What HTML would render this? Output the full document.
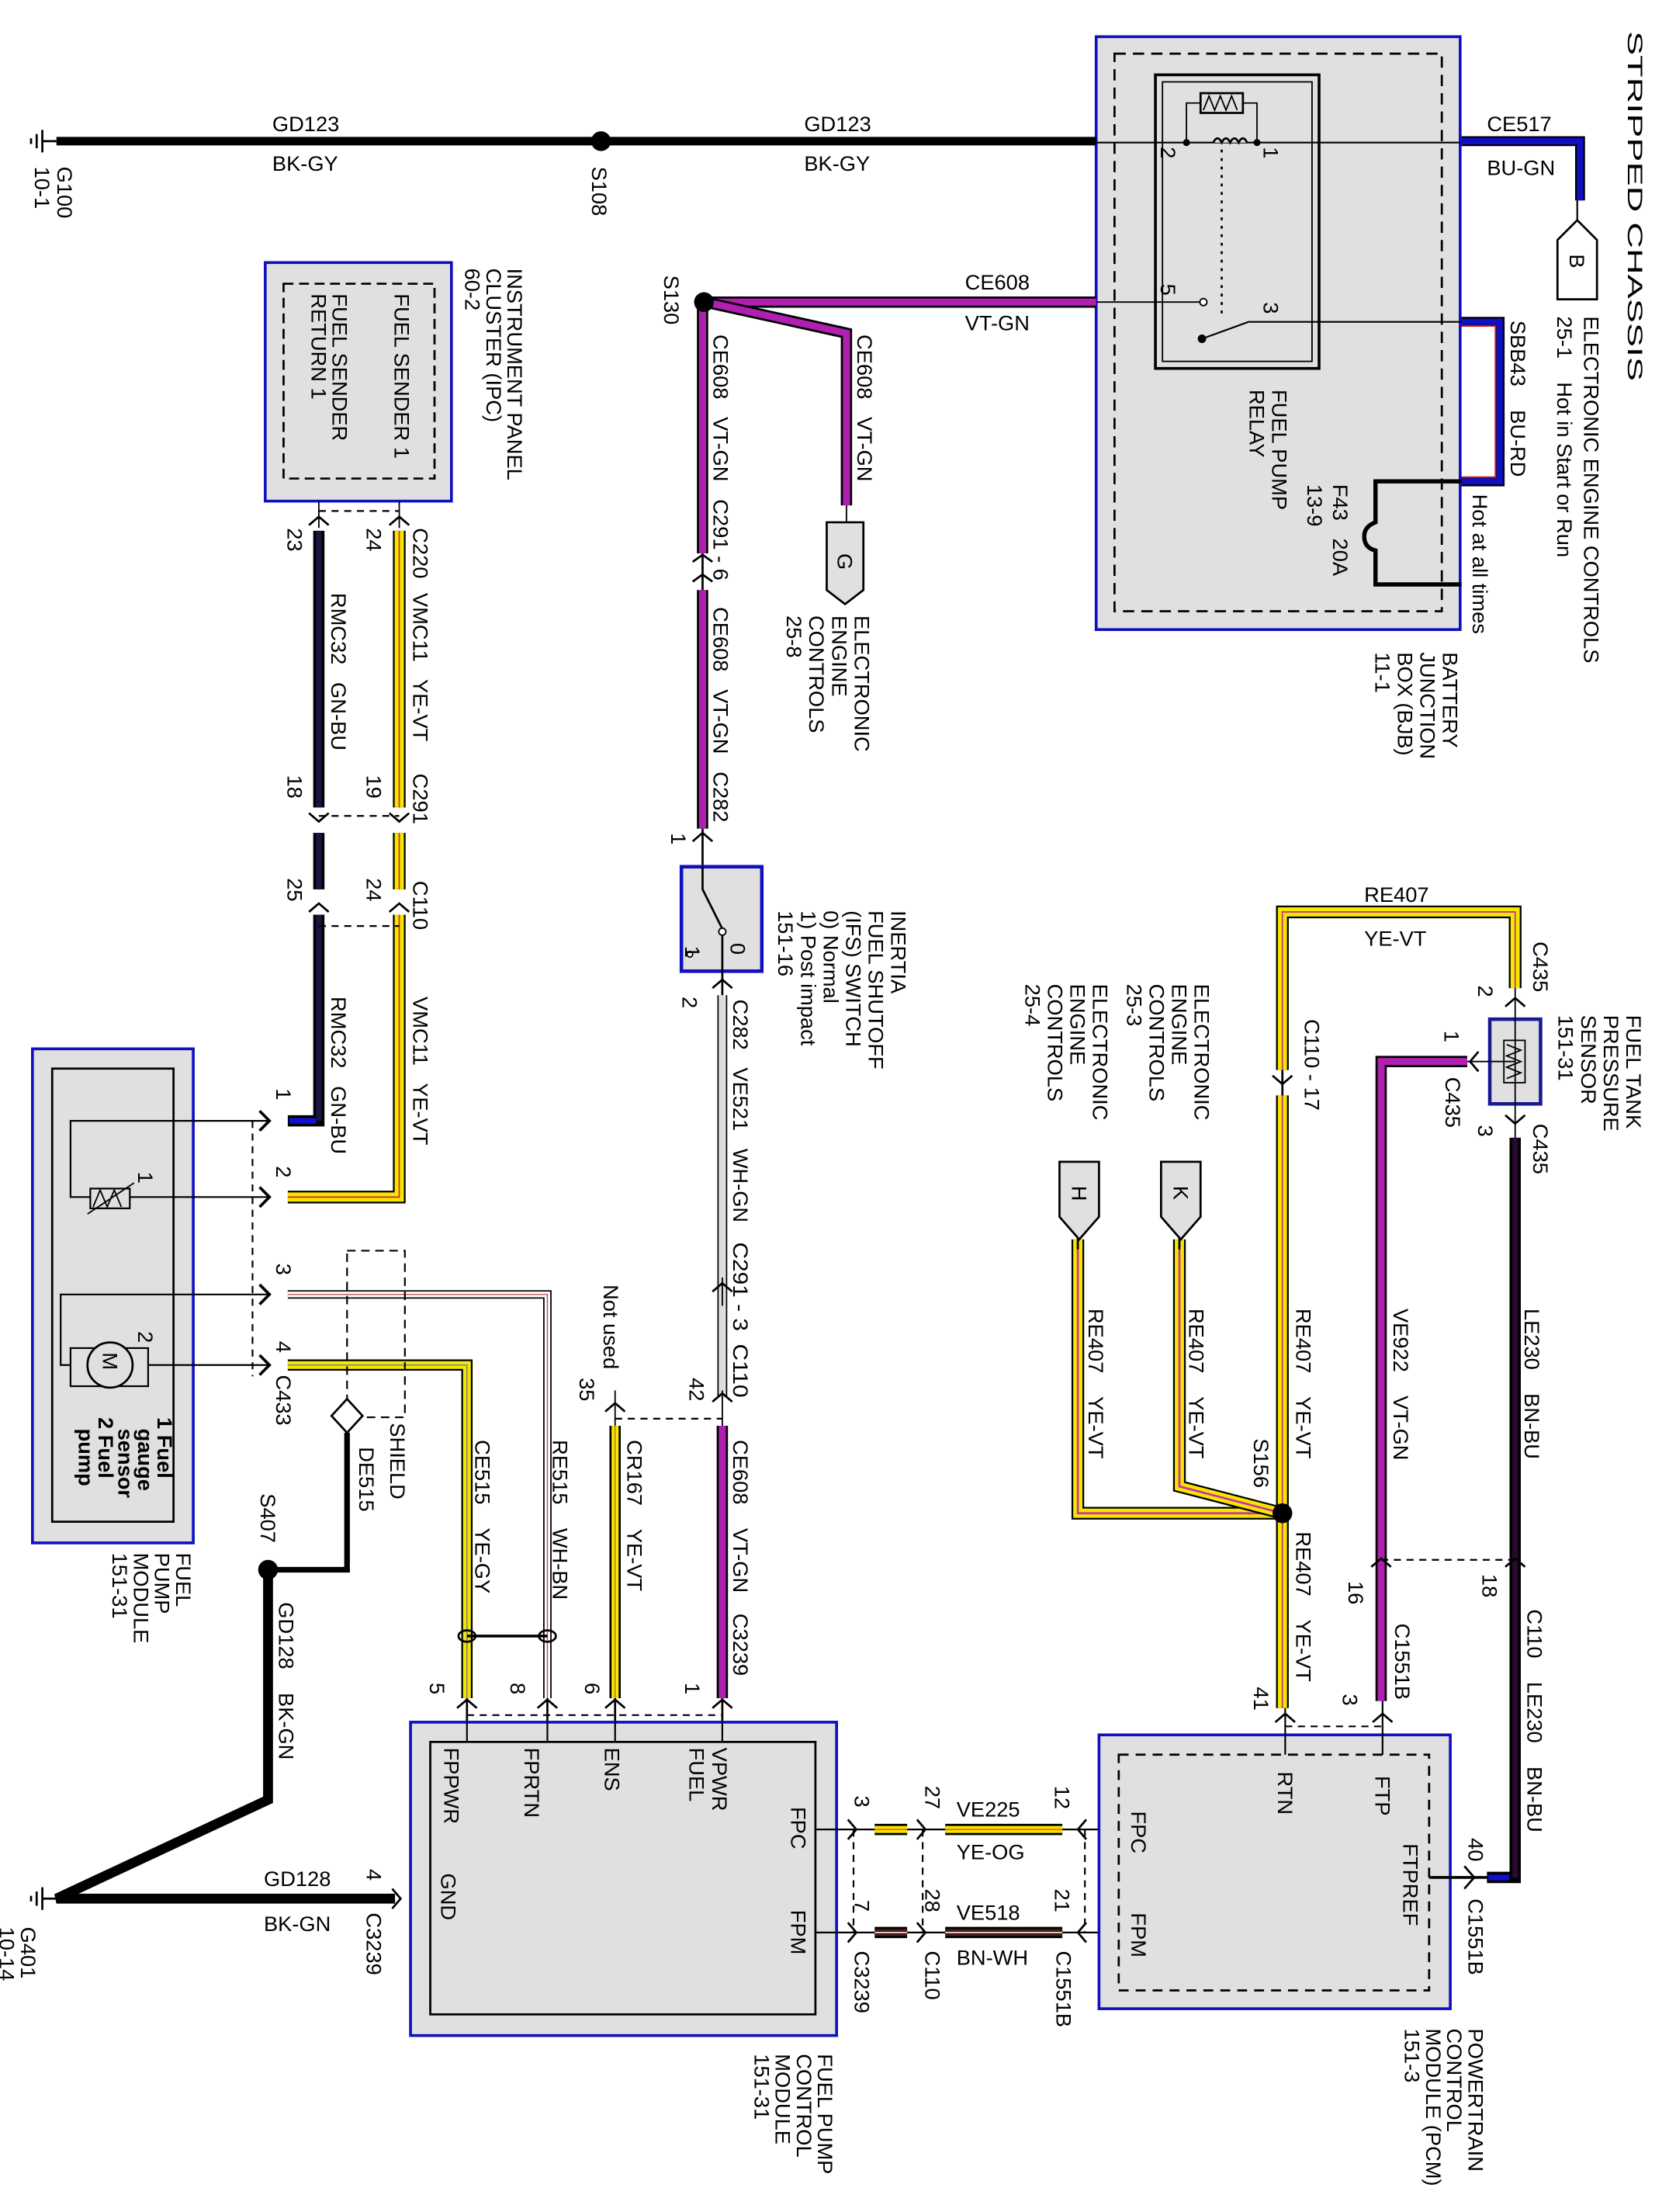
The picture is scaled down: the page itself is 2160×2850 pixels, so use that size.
<!DOCTYPE html>
<html><head><meta charset="utf-8"><style>
html,body{margin:0;padding:0;background:#fff;}
svg{display:block;}
text{font-family:"Liberation Sans Narrow","Liberation Sans",sans-serif;font-size:15px;fill:#000;}
.v{dominant-baseline:central;}
</style></head><body>
<svg width="2160" height="2850" viewBox="0 0 1188 1567" preserveAspectRatio="none" xmlns="http://www.w3.org/2000/svg">
<rect width="1188" height="1567" fill="#fff"/>
<g fill="none" stroke-linejoin="miter">

<rect x="777" y="26" width="258" height="420" fill="#e0e0e0" stroke="#1010c0" stroke-width="2"/>
<rect x="790" y="38" width="232" height="395" stroke="#000" stroke-width="1.5" stroke-dasharray="8,5"/>
<rect x="819" y="53" width="116" height="208" stroke="#000" stroke-width="2"/>
<rect x="824" y="58" width="106" height="198" stroke="#000" stroke-width="1"/>
<rect x="851" y="66" width="30" height="14" stroke="#000" stroke-width="1.5"/>
<path d="M853,78 l4,-10 l4,10 l4,-10 l4,10 l4,-10 l4,10" stroke="#000" stroke-width="1"/>
<path d="M851,73 h-10 v28 M881,73 h10 v28" stroke="#000" stroke-width="1"/>
<path d="M777,101 H1035" stroke="#000" stroke-width="1.2"/>
<path d="M860,101 q3,-6 6,0 q3,-6 6,0 q3,-6 6,0 q3,-6 6,0" stroke="#000" stroke-width="1.5" fill="#e0e0e0"/>
<circle cx="841" cy="101" r="2.5" fill="#000"/><circle cx="891" cy="101" r="2.5" fill="#000"/>
<path d="M866,106 V222" stroke="#000" stroke-width="1.5" stroke-dasharray="2,4"/>
<path d="M777,214 H852" stroke="#000" stroke-width="1"/>
<circle cx="853" cy="214" r="2.5" fill="#fff" stroke="#000" stroke-width="1"/>
<circle cx="852" cy="240" r="3" fill="#000"/>
<path d="M852,240 L885,228 H1036" stroke="#000" stroke-width="1.2"/>
<path d="M1036,228 H1063 V341 H1036" stroke="#000" stroke-width="7"/>
<path d="M1036,228 H1063 V341 H1036" stroke="#1010c0" stroke-width="4.5"/>
<path d="M1036,231 H1060 V338 H1036" stroke="#e02020" stroke-width="1"/>
<path d="M1036,341 H975 V370 q-8,3 -8,10 q0,8 8,10 V414 H1036" stroke="#000" stroke-width="3"/>
<path d="M1036,100 H1120 V142" stroke="#000" stroke-width="7"/>
<path d="M1036,100 H1120 V142" stroke="#1010c0" stroke-width="4.5"/>
<path d="M1118,142 V158" stroke="#000" stroke-width="1.2"/>
<path d="M1104,170 L1118,156 L1132,170 V212 H1104 Z" fill="#fff" stroke="#000" stroke-width="1.5"/>

<path d="M40,100 H777" stroke="#000" stroke-width="6"/>
<circle cx="426" cy="100" r="7" fill="#000"/>
<path d="M30,100 H40 M30,92 V108 M26,95 V105 M22,98 V102" stroke="#000" stroke-width="1.5"/>

<path d="M500,214 H777" stroke="#000" stroke-width="8"/>
<path d="M500,214 H777" stroke="#b020b0" stroke-width="5"/>
<path d="M500,214 L600,236 V358" stroke="#000" stroke-width="8"/>
<path d="M500,214 L600,236 V358" stroke="#b020b0" stroke-width="5"/>
<path d="M498,214 V392 M498,418 V587" stroke="#000" stroke-width="8"/>
<path d="M498,214 V392 M498,418 V587" stroke="#b020b0" stroke-width="5"/>
<circle cx="499" cy="214" r="7" fill="#000"/>
<path d="M600,358 V370" stroke="#000" stroke-width="1"/>
<path d="M586,370 H612 V418 L599,428 L586,418 Z" fill="#e0e0e0" stroke="#000" stroke-width="1.5"/>
<path d="M498,392 V418 M491,398 L498,393 L505,398 M491,412 L498,407 L505,412" stroke="#000" stroke-width="1.5"/>
<path d="M498,587 V614 M491,596 L498,590 L505,596" stroke="#000" stroke-width="1.5"/>
<rect x="483" y="614" width="57" height="74" fill="#e0e0e0" stroke="#1010c0" stroke-width="2.5"/>
<path d="M498,614 V630 L513,660 M512,660 V705" stroke="#000" stroke-width="1.5"/>
<circle cx="512" cy="660" r="2.5" fill="#fff" stroke="#000"/>
<circle cx="489" cy="676" r="2" fill="#fff" stroke="#000"/>
<path d="M505,700 L512,694 L519,700" stroke="#000" stroke-width="1.5"/>
<path d="M509,705 V990 M515,705 V990" stroke="#000" stroke-width="1"/>
<path d="M512,705 V990" stroke="#ddd" stroke-width="4"/>
<path d="M505,915 L512,909 L519,915 M505,993 L512,987 L519,993" stroke="#000" stroke-width="1.5"/>
<path d="M512,905 V925 M512,985 V1010" stroke="#000" stroke-width="1"/>
<path d="M512,1010 V1203" stroke="#000" stroke-width="8"/>
<path d="M512,1010 V1203" stroke="#b020b0" stroke-width="5"/>
<path d="M436,1005 H512" stroke="#000" stroke-width="1.2" stroke-dasharray="5,4"/>
<path d="M436,985 V1010" stroke="#000" stroke-width="1"/>
<path d="M429,1000 L436,994 L443,1000" stroke="#000" stroke-width="1.5"/>
<path d="M436,1010 V1203" stroke="#000" stroke-width="8"/>
<path d="M436,1010 V1203" stroke="#f5e800" stroke-width="5"/>
<path d="M436,1010 V1203" stroke="#d08020" stroke-width="1"/>

<rect x="188" y="186" width="132" height="169" fill="#e0e0e0" stroke="#1010c0" stroke-width="2"/>
<rect x="201" y="201" width="107" height="138" stroke="#000" stroke-width="1.5" stroke-dasharray="7,4"/>
<path d="M283,355 V374 M226,355 V374" stroke="#000" stroke-width="1"/>
<path d="M226,362 H283" stroke="#000" stroke-width="1.2" stroke-dasharray="5,4"/>
<path d="M283,376 V572 M283,590 V630 M283,648 V848 H204" stroke="#000" stroke-width="9"/>
<path d="M283,376 V572 M283,590 V630 M283,648 V848 H204" stroke="#f5e800" stroke-width="6.5"/>
<path d="M283,376 V572 M283,590 V630 M283,648 V848 H204" stroke="#d03030" stroke-width="1"/>
<path d="M226,376 V572 M226,590 V630 M226,648 V794 H204" stroke="#000" stroke-width="8"/>
<path d="M226,376 V572 M226,590 V630 M226,648 V794" stroke="#1a1440" stroke-width="4"/>
<path d="M224,794 H205" stroke="#1010d0" stroke-width="4"/>
<path d="M226,578 H283 M226,656 H283" stroke="#000" stroke-width="1.2" stroke-dasharray="5,4"/>
<g stroke="#000" stroke-width="1.5">
<path d="M219,372 L226,366 L233,372 M276,372 L283,366 L290,372"/>
<path d="M219,576 L226,582 L233,576 M276,576 L283,582 L290,576"/>
<path d="M219,646 L226,640 L233,646 M276,646 L283,640 L290,646"/>
</g>

<rect x="23" y="743" width="114" height="350" fill="#e0e0e0" stroke="#1010c0" stroke-width="2"/>
<rect x="37" y="757" width="86" height="321" stroke="#000" stroke-width="1.5"/>
<path d="M190,794 H50 V848 H190 M190,917 H43 V967 H190" stroke="#000" stroke-width="1.2"/>
<rect x="64" y="842" width="28" height="14" fill="#e0e0e0" stroke="#000" stroke-width="1.2"/>
<path d="M66,855 l5,-12 l5,12 l5,-12 l5,12 M62,860 L95,838" stroke="#000" stroke-width="1"/>
<rect x="50" y="955" width="55" height="27" fill="#e0e0e0" stroke="#000" stroke-width="1.2"/>
<circle cx="78" cy="967" r="16" fill="#e0e0e0" stroke="#000" stroke-width="1.5"/>
<path d="M179,794 V975" stroke="#000" stroke-width="1.2" stroke-dasharray="5,4"/>
<g stroke="#000" stroke-width="2">
<path d="M184,787 L191,794 L184,801 M184,841 L191,848 L184,855 M184,910 L191,917 L184,924 M184,960 L191,967 L184,974"/>
</g>
<path d="M204,917 H388 V1203" stroke="#000" stroke-width="6"/>
<path d="M204,917 H388 V1203" stroke="#fff" stroke-width="4"/>
<path d="M204,917 H388 V1203" stroke="#c05050" stroke-width="0.8"/>
<path d="M204,967 H331 V1203" stroke="#000" stroke-width="8"/>
<path d="M204,967 H331 V1203" stroke="#f5e800" stroke-width="5.5"/>
<path d="M204,967 H331 V1203" stroke="#888" stroke-width="1"/>
<rect x="246" y="886" width="41" height="118" stroke="#000" stroke-width="1.2" stroke-dasharray="6,4"/>
<path d="M246,991 L257,1003 L246,1015 L235,1003 Z" fill="#fff" stroke="#000" stroke-width="1.5"/>
<path d="M246,1015 V1112 H190" stroke="#000" stroke-width="4"/>
<circle cx="190" cy="1112" r="7" fill="#000"/>
<path d="M331,1159 H388" stroke="#000" stroke-width="2"/>
<ellipse cx="331" cy="1159" rx="6" ry="4" stroke="#000" stroke-width="1.5"/>
<ellipse cx="388" cy="1159" rx="6" ry="4" stroke="#000" stroke-width="1.5"/>
<path d="M190,1112 V1275 L40,1345 H280" stroke="#000" stroke-width="7"/>
<path d="M30,1345 H40 M30,1337 V1353 M26,1340 V1350 M22,1343 V1347" stroke="#000" stroke-width="1.5"/>
<path d="M278,1338 L284,1345 L278,1352" stroke="#000" stroke-width="1.5"/>

<path d="M331,1215 H512" stroke="#000" stroke-width="1.2" stroke-dasharray="5,4"/>
<g stroke="#000" stroke-width="1.5">
<path d="M324,1210 L331,1204 L338,1210 M381,1210 L388,1204 L395,1210 M429,1210 L436,1204 L443,1210 M505,1210 L512,1204 L519,1210"/>
<path d="M331,1203 V1250 M388,1203 V1250 M436,1203 V1250 M512,1203 V1250"/>
</g>
<rect x="291" y="1220" width="302" height="222" fill="#e0e0e0" stroke="#1010c0" stroke-width="2"/>
<rect x="305" y="1234" width="273" height="193" stroke="#000" stroke-width="1.5"/>
<path d="M331,1220 V1234 M388,1220 V1234 M436,1220 V1234 M512,1220 V1234" stroke="#000" stroke-width="1.2"/>

<path d="M578,1296 H779 M578,1369 H779" stroke="#000" stroke-width="1.2"/>
<path d="M620,1296 H643 M670,1296 H753" stroke="#000" stroke-width="8"/>
<path d="M620,1296 H643 M670,1296 H753" stroke="#f5e800" stroke-width="5"/>
<path d="M620,1296 H643 M670,1296 H753" stroke="#f08000" stroke-width="1.2"/>
<path d="M620,1369 H643 M670,1369 H753" stroke="#000" stroke-width="8"/>
<path d="M620,1369 H643 M670,1369 H753" stroke="#4a1a14" stroke-width="5"/>
<path d="M620,1369 H643 M670,1369 H753" stroke="#fff" stroke-width="0.8"/>
<path d="M605,1296 V1369 M654,1296 V1369 M769,1296 V1369" stroke="#000" stroke-width="1.2" stroke-dasharray="5,4"/>
<g stroke="#000" stroke-width="1.5">
<path d="M601,1289 L607,1296 L601,1303 M650,1289 L656,1296 L650,1303 M770,1289 L764,1296 L770,1303"/>
<path d="M601,1362 L607,1369 L601,1376 M650,1362 L656,1369 L650,1376 M770,1362 L764,1369 L770,1376"/>
</g>

<rect x="779" y="1229" width="249" height="194" fill="#e0e0e0" stroke="#1010c0" stroke-width="2"/>
<rect x="793" y="1243" width="220" height="167" stroke="#000" stroke-width="1.5" stroke-dasharray="7,5"/>
<path d="M1013,1330 H1054" stroke="#000" stroke-width="2"/>
<path d="M1038,1322 L1045,1330 L1038,1338" stroke="#000" stroke-width="1.5"/>
<path d="M909,1210 V776 M909,758 V646 H1074 V700" stroke="#000" stroke-width="9"/>
<path d="M909,1210 V776 M909,758 V646 H1074 V700" stroke="#f5e800" stroke-width="6.5"/>
<path d="M909,1210 V776 M909,758 V646 H1074 V700" stroke="#d03080" stroke-width="1"/>
<path d="M902,762 L909,768 L916,762 M909,758 V776" stroke="#000" stroke-width="1.5"/>
<path d="M764,878 V1072 H909" stroke="#000" stroke-width="9"/>
<path d="M764,878 V1072 H909" stroke="#f5e800" stroke-width="6.5"/>
<path d="M764,878 V1072 H909" stroke="#d030a0" stroke-width="1.5"/>
<path d="M836,878 V1053 L909,1072" stroke="#000" stroke-width="9"/>
<path d="M836,878 V1053 L909,1072" stroke="#f5e800" stroke-width="6.5"/>
<path d="M836,878 V1053 L909,1072" stroke="#d030a0" stroke-width="1.5"/>
<circle cx="909" cy="1072" r="7" fill="#000"/>
<path d="M764,870 V885 M836,870 V885" stroke="#000" stroke-width="1.5"/>
<path d="M751,823 H779 V862 L765,878 L751,862 Z" fill="#e0e0e0" stroke="#000" stroke-width="1.5"/>
<path d="M823,823 H851 V862 L837,878 L823,862 Z" fill="#e0e0e0" stroke="#000" stroke-width="1.5"/>
<rect x="1056" y="722" width="36" height="60" fill="#e0e0e0" stroke="#1a1a90" stroke-width="2.5"/>
<rect x="1066" y="737" width="15" height="30" fill="#e0e0e0" stroke="#000" stroke-width="1"/>
<path d="M1068,740 l10,4 l-10,4 l10,4 l-10,4 l10,4 l-10,4" stroke="#000" stroke-width="1"/>
<path d="M1074,700 V812 M1040,752 H1074" stroke="#000" stroke-width="1"/>
<path d="M1067,713 L1074,707 L1081,713 M1067,790 L1074,796 L1081,790 M1048,745 L1042,752 L1048,759" stroke="#000" stroke-width="1.5"/>
<path d="M1040,752 H979 V1205" stroke="#000" stroke-width="8"/>
<path d="M1040,752 H979 V1205" stroke="#b020b0" stroke-width="5"/>
<path d="M1074,806 V1330 H1054" stroke="#000" stroke-width="8"/>
<path d="M1074,806 V1330" stroke="#2a0a30" stroke-width="4"/>
<path d="M1070,1330 H1055" stroke="#1010d0" stroke-width="4"/>
<path d="M979,1105 H1074" stroke="#000" stroke-width="1.2" stroke-dasharray="5,4"/>
<path d="M972,1110 L979,1104 L986,1110 M1067,1110 L1074,1104 L1081,1110" stroke="#000" stroke-width="1.5"/>
<path d="M911,1210 V1243 M980,1205 V1243" stroke="#000" stroke-width="1.2"/>
<path d="M911,1223 H980" stroke="#000" stroke-width="1.2" stroke-dasharray="5,4"/>
<path d="M904,1220 L911,1214 L918,1220 M973,1220 L980,1214 L987,1220" stroke="#000" stroke-width="1.5"/>
</g>

<g font-size="16">
<text x="193" y="93">GD123</text><text x="193" y="121">BK-GY</text>
<text x="570" y="93">GD123</text><text x="570" y="121">BK-GY</text>
<text x="1054" y="93">CE517</text><text x="1054" y="124">BU-GN</text>
<text x="684" y="205">CE608</text><text x="684" y="234">VT-GN</text>
<text x="967" y="639">RE407</text><text x="967" y="670">YE-VT</text>
<text x="678" y="1287">VE225</text><text x="678" y="1317">YE-OG</text>
<text x="678" y="1360">VE518</text><text x="678" y="1392">BN-WH</text>
<text x="187" y="1336">GD128</text><text x="187" y="1368">BK-GN</text>
</g>

<g>
<text class="v" font-size="33" transform="translate(1159,22) rotate(90)" textLength="248" lengthAdjust="spacingAndGlyphs">STRIPPED CHASSIS</text>
<text class="v" font-size="17" transform="translate(1128,224) rotate(90)">ELECTRONIC ENGINE CONTROLS</text>
<text class="v" font-size="17" transform="translate(1109,224) rotate(90)" xml:space="preserve">25-1    Hot in Start or Run</text>
<text class="v" font-size="16" transform="translate(1118,180) rotate(90)">B</text>
<text class="v" font-size="17" transform="translate(1076,227) rotate(90)" xml:space="preserve">SBB43    BU-RD</text>
<text class="v" font-size="17" transform="translate(1049,350) rotate(90)">Hot at all times</text>
<text class="v" font-size="17" transform="translate(1028,462) rotate(90)">BATTERY</text>
<text class="v" font-size="17" transform="translate(1012,462) rotate(90)">JUNCTION</text>
<text class="v" font-size="17" transform="translate(996,462) rotate(90)">BOX (BJB)</text>
<text class="v" font-size="17" transform="translate(980,462) rotate(90)">11-1</text>
<text class="v" font-size="17" transform="translate(950,343) rotate(90)" xml:space="preserve">F43   20A</text>
<text class="v" font-size="17" transform="translate(932,343) rotate(90)">13-9</text>
<text class="v" font-size="17" transform="translate(907,276) rotate(90)">FUEL PUMP</text>
<text class="v" font-size="17" transform="translate(891,276) rotate(90)">RELAY</text>
<text class="v" font-size="14" transform="translate(828,104) rotate(90)">2</text>
<text class="v" font-size="14" transform="translate(901,104) rotate(90)">1</text>
<text class="v" font-size="14" transform="translate(828,201) rotate(90)">5</text>
<text class="v" font-size="14" transform="translate(901,214) rotate(90)">3</text>

<text class="v" font-size="16" transform="translate(46,118) rotate(90)">G100</text>
<text class="v" font-size="16" transform="translate(30,118) rotate(90)">10-1</text>
<text class="v" font-size="16" transform="translate(425,118) rotate(90)">S108</text>
<text class="v" font-size="16" transform="translate(476,195) rotate(90)">S130</text>

<text class="v" font-size="16" transform="translate(365,190) rotate(90)">INSTRUMENT PANEL</text>
<text class="v" font-size="16" transform="translate(350,190) rotate(90)">CLUSTER (IPC)</text>
<text class="v" font-size="16" transform="translate(335,190) rotate(90)">60-2</text>
<text class="v" font-size="16" transform="translate(285,208) rotate(90)">FUEL SENDER 1</text>
<text class="v" font-size="16" transform="translate(241,208) rotate(90)">FUEL SENDER</text>
<text class="v" font-size="16" transform="translate(226,208) rotate(90)">RETURN 1</text>

<text class="v" font-size="15" transform="translate(298,374) rotate(90)">C220</text>
<text class="v" font-size="15" transform="translate(265,374) rotate(90)">24</text>
<text class="v" font-size="15" transform="translate(209,374) rotate(90)">23</text>
<text class="v" font-size="16" transform="translate(298,420) rotate(90)" xml:space="preserve">VMC11   YE-VT</text>
<text class="v" font-size="16" transform="translate(240,420) rotate(90)" xml:space="preserve">RMC32   GN-BU</text>
<text class="v" font-size="15" transform="translate(298,548) rotate(90)">C291</text>
<text class="v" font-size="15" transform="translate(265,549) rotate(90)">19</text>
<text class="v" font-size="15" transform="translate(209,549) rotate(90)">18</text>
<text class="v" font-size="15" transform="translate(298,624) rotate(90)">C110</text>
<text class="v" font-size="15" transform="translate(265,622) rotate(90)">24</text>
<text class="v" font-size="15" transform="translate(209,622) rotate(90)">25</text>
<text class="v" font-size="16" transform="translate(298,706) rotate(90)" xml:space="preserve">VMC11   YE-VT</text>
<text class="v" font-size="16" transform="translate(240,706) rotate(90)" xml:space="preserve">RMC32   GN-BU</text>

<text class="v" font-size="14" transform="translate(201,771) rotate(90)">1</text>
<text class="v" font-size="14" transform="translate(201,826) rotate(90)">2</text>
<text class="v" font-size="14" transform="translate(201,895) rotate(90)">3</text>
<text class="v" font-size="14" transform="translate(201,950) rotate(90)">4</text>
<text class="v" font-size="15" transform="translate(201,974) rotate(90)">C433</text>
<text class="v" font-size="14" transform="translate(103,830) rotate(90)">1</text>
<text class="v" font-size="14" transform="translate(103,943) rotate(90)">2</text>
<text class="v" font-size="15" transform="translate(78,958) rotate(90)">M</text>
<text class="v" font-size="15" font-weight="bold" transform="translate(117,1004) rotate(90)">1 Fuel</text>
<text class="v" font-size="15" font-weight="bold" transform="translate(103,1012) rotate(90)">gauge</text>
<text class="v" font-size="15" font-weight="bold" transform="translate(89,1012) rotate(90)">sensor</text>
<text class="v" font-size="15" font-weight="bold" transform="translate(75,1004) rotate(90)">2 Fuel</text>
<text class="v" font-size="15" font-weight="bold" transform="translate(61,1012) rotate(90)">pump</text>
<text class="v" font-size="16" transform="translate(130,1100) rotate(90)">FUEL</text>
<text class="v" font-size="16" transform="translate(115,1100) rotate(90)">PUMP</text>
<text class="v" font-size="16" transform="translate(100,1100) rotate(90)">MODULE</text>
<text class="v" font-size="16" transform="translate(85,1100) rotate(90)">151-31</text>
<text class="v" font-size="16" transform="translate(282,1008) rotate(90)">SHIELD</text>
<text class="v" font-size="16" transform="translate(260,1025) rotate(90)">DE515</text>
<text class="v" font-size="16" transform="translate(190,1058) rotate(90)">S407</text>
<text class="v" font-size="16" transform="translate(203,1135) rotate(90)" xml:space="preserve">GD128    BK-GN</text>
<text class="v" font-size="15" transform="translate(265,1324) rotate(90)">4</text>
<text class="v" font-size="15" transform="translate(265,1355) rotate(90)">C3239</text>
<text class="v" font-size="16" transform="translate(20,1365) rotate(90)">G401</text>
<text class="v" font-size="16" transform="translate(5,1365) rotate(90)">10-14</text>

<text class="v" font-size="16" transform="translate(342,1020) rotate(90)" xml:space="preserve">CE515    YE-GY</text>
<text class="v" font-size="16" transform="translate(397,1020) rotate(90)" xml:space="preserve">RE515    WH-BN</text>
<text class="v" font-size="16" transform="translate(450,1020) rotate(90)" xml:space="preserve">CR167    YE-VT</text>
<text class="v" font-size="16" transform="translate(525,1020) rotate(90)" xml:space="preserve">CE608    VT-GN</text>
<text class="v" font-size="16" transform="translate(525,1143) rotate(90)">C3239</text>
<text class="v" font-size="15" transform="translate(310,1192) rotate(90)">5</text>
<text class="v" font-size="15" transform="translate(367,1192) rotate(90)">8</text>
<text class="v" font-size="15" transform="translate(420,1192) rotate(90)">6</text>
<text class="v" font-size="15" transform="translate(491,1192) rotate(90)">1</text>
<text class="v" font-size="16" transform="translate(433,910) rotate(90)">Not used</text>
<text class="v" font-size="15" transform="translate(416,976) rotate(90)">35</text>
<text class="v" font-size="15" transform="translate(494,976) rotate(90)">42</text>
<text class="v" font-size="16" transform="translate(525,880) rotate(90)" textLength="110" lengthAdjust="spacingAndGlyphs" xml:space="preserve">C291 - 3  C110</text>
<text class="v" font-size="16" transform="translate(525,708) rotate(90)" textLength="158" lengthAdjust="spacingAndGlyphs" xml:space="preserve">C282   VE521   WH-GN</text>
<text class="v" font-size="15" transform="translate(489,706) rotate(90)">2</text>
<text class="v" font-size="15" transform="translate(481,590) rotate(90)">1</text>
<text class="v" font-size="14" transform="translate(523,668) rotate(90)">0</text>
<text class="v" font-size="14" transform="translate(491,670) rotate(90)">1</text>
<text class="v" font-size="16" transform="translate(637,645) rotate(90)">INERTIA</text>
<text class="v" font-size="16" transform="translate(621,645) rotate(90)">FUEL SHUTOFF</text>
<text class="v" font-size="16" transform="translate(605,645) rotate(90)">(IFS) SWITCH</text>
<text class="v" font-size="16" transform="translate(589,645) rotate(90)">0) Normal</text>
<text class="v" font-size="16" transform="translate(573,645) rotate(90)">1) Post impact</text>
<text class="v" font-size="16" transform="translate(557,645) rotate(90)">151-16</text>
<text class="v" font-size="16" transform="translate(511,237) rotate(90)" xml:space="preserve">CE608   VT-GN   C291 - 6</text>
<text class="v" font-size="16" transform="translate(511,430) rotate(90)" xml:space="preserve">CE608   VT-GN   C282</text>
<text class="v" font-size="16" transform="translate(613,237) rotate(90)" xml:space="preserve">CE608   VT-GN</text>
<text class="v" font-size="16" transform="translate(599,392) rotate(90)">G</text>
<text class="v" font-size="16" transform="translate(611,436) rotate(90)">ELECTRONIC</text>
<text class="v" font-size="16" transform="translate(595,436) rotate(90)">ENGINE</text>
<text class="v" font-size="16" transform="translate(579,436) rotate(90)">CONTROLS</text>
<text class="v" font-size="16" transform="translate(563,436) rotate(90)">25-8</text>

<text class="v" font-size="16" transform="translate(320,1238) rotate(90)">FPPWR</text>
<text class="v" font-size="16" transform="translate(377,1238) rotate(90)">FPRTN</text>
<text class="v" font-size="16" transform="translate(434,1238) rotate(90)">ENS</text>
<text class="v" font-size="16" transform="translate(510,1238) rotate(90)">VPWR</text>
<text class="v" font-size="16" transform="translate(494,1238) rotate(90)">FUEL</text>
<text class="v" font-size="16" transform="translate(318,1327) rotate(90)">GND</text>
<text class="v" font-size="16" transform="translate(566,1280) rotate(90)">FPC</text>
<text class="v" font-size="16" transform="translate(566,1353) rotate(90)">FPM</text>
<text class="v" font-size="16" transform="translate(585,1455) rotate(90)">FUEL PUMP</text>
<text class="v" font-size="16" transform="translate(570,1455) rotate(90)">CONTROL</text>
<text class="v" font-size="16" transform="translate(555,1455) rotate(90)">MODULE</text>
<text class="v" font-size="16" transform="translate(540,1455) rotate(90)">151-31</text>
<text class="v" font-size="15" transform="translate(611,1272) rotate(90)">3</text>
<text class="v" font-size="15" transform="translate(661,1265) rotate(90)">27</text>
<text class="v" font-size="15" transform="translate(753,1265) rotate(90)">12</text>
<text class="v" font-size="15" transform="translate(611,1346) rotate(90)">7</text>
<text class="v" font-size="15" transform="translate(661,1338) rotate(90)">28</text>
<text class="v" font-size="15" transform="translate(753,1338) rotate(90)">21</text>
<text class="v" font-size="15" transform="translate(611,1382) rotate(90)">C3239</text>
<text class="v" font-size="15" transform="translate(661,1382) rotate(90)">C110</text>
<text class="v" font-size="15" transform="translate(754,1382) rotate(90)">C1551B</text>

<text class="v" font-size="16" transform="translate(807,1283) rotate(90)">FPC</text>
<text class="v" font-size="16" transform="translate(807,1355) rotate(90)">FPM</text>
<text class="v" font-size="16" transform="translate(911,1255) rotate(90)">RTN</text>
<text class="v" font-size="16" transform="translate(980,1258) rotate(90)">FTP</text>
<text class="v" font-size="16" transform="translate(1000,1306) rotate(90)">FTPREF</text>
<text class="v" font-size="15" transform="translate(1046,1302) rotate(90)">40</text>
<text class="v" font-size="15" transform="translate(1046,1345) rotate(90)">C1551B</text>
<text class="v" font-size="16" transform="translate(1088,1140) rotate(90)" xml:space="preserve">C110    LE230    BN-BU</text>
<text class="v" font-size="15" transform="translate(1056,1115) rotate(90)">18</text>
<text class="v" font-size="15" transform="translate(961,1120) rotate(90)">16</text>
<text class="v" font-size="16" transform="translate(994,1150) rotate(90)">C1551B</text>
<text class="v" font-size="15" transform="translate(957,1200) rotate(90)">3</text>
<text class="v" font-size="15" transform="translate(894,1195) rotate(90)">41</text>
<text class="v" font-size="16" transform="translate(924,1085) rotate(90)" xml:space="preserve">RE407    YE-VT</text>
<text class="v" font-size="16" transform="translate(1046,1437) rotate(90)">POWERTRAIN</text>
<text class="v" font-size="16" transform="translate(1031,1437) rotate(90)">CONTROL</text>
<text class="v" font-size="16" transform="translate(1016,1437) rotate(90)">MODULE (PCM)</text>
<text class="v" font-size="16" transform="translate(1001,1437) rotate(90)">151-3</text>

<text class="v" font-size="16" transform="translate(924,927) rotate(90)" xml:space="preserve">RE407    YE-VT</text>
<text class="v" font-size="16" transform="translate(848,927) rotate(90)" xml:space="preserve">RE407    YE-VT</text>
<text class="v" font-size="16" transform="translate(777,927) rotate(90)" xml:space="preserve">RE407    YE-VT</text>
<text class="v" font-size="16" transform="translate(993,927) rotate(90)" xml:space="preserve">VE922    VT-GN</text>
<text class="v" font-size="16" transform="translate(1086,927) rotate(90)" xml:space="preserve">LE230    BN-BU</text>
<text class="v" font-size="16" transform="translate(894,1019) rotate(90)">S156</text>
<text class="v" font-size="16" transform="translate(837,840) rotate(90)">K</text>
<text class="v" font-size="16" transform="translate(765,840) rotate(90)">H</text>
<text class="v" font-size="16" transform="translate(930,722) rotate(90)">C110 - 17</text>
<text class="v" font-size="16" transform="translate(852,697) rotate(90)">ELECTRONIC</text>
<text class="v" font-size="16" transform="translate(836,697) rotate(90)">ENGINE</text>
<text class="v" font-size="16" transform="translate(820,697) rotate(90)">CONTROLS</text>
<text class="v" font-size="16" transform="translate(804,697) rotate(90)">25-3</text>
<text class="v" font-size="16" transform="translate(780,697) rotate(90)">ELECTRONIC</text>
<text class="v" font-size="16" transform="translate(764,697) rotate(90)">ENGINE</text>
<text class="v" font-size="16" transform="translate(748,697) rotate(90)">CONTROLS</text>
<text class="v" font-size="16" transform="translate(732,697) rotate(90)">25-4</text>
<text class="v" font-size="16" transform="translate(1158,719) rotate(90)">FUEL TANK</text>
<text class="v" font-size="16" transform="translate(1142,719) rotate(90)">PRESSURE</text>
<text class="v" font-size="16" transform="translate(1126,719) rotate(90)">SENSOR</text>
<text class="v" font-size="16" transform="translate(1110,719) rotate(90)">151-31</text>
<text class="v" font-size="15" transform="translate(1092,667) rotate(90)">C435</text>
<text class="v" font-size="15" transform="translate(1053,698) rotate(90)">2</text>
<text class="v" font-size="15" transform="translate(1029,730) rotate(90)">1</text>
<text class="v" font-size="15" transform="translate(1030,763) rotate(90)">C435</text>
<text class="v" font-size="15" transform="translate(1053,797) rotate(90)">3</text>
<text class="v" font-size="15" transform="translate(1092,796) rotate(90)">C435</text>
</g>
</svg>
</body></html>
